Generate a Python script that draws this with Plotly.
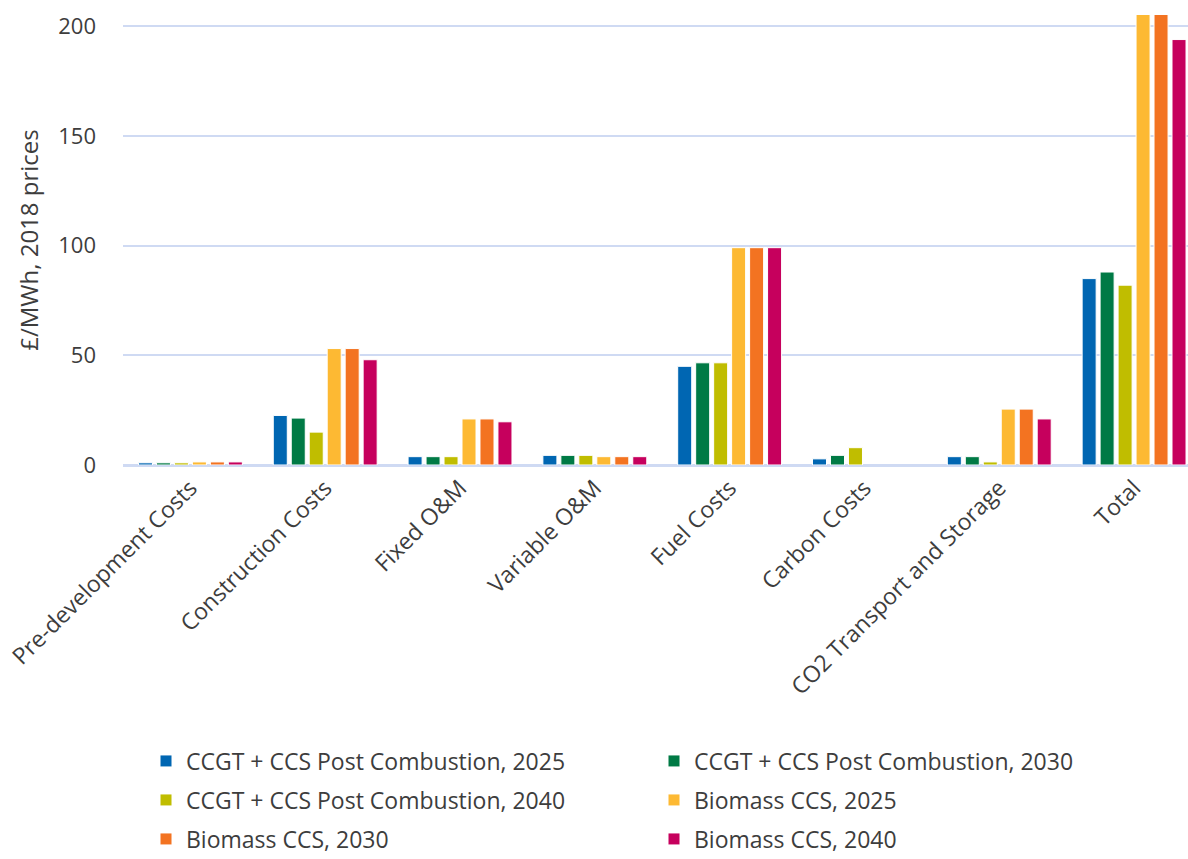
import plotly.graph_objects as go

# Cost categories on the x axis
categories = [
    "Pre-development Costs",
    "Construction Costs",
    "Fixed O&M",
    "Variable O&M",
    "Fuel Costs",
    "Carbon Costs",
    "CO2 Transport and Storage",
    "Total",
]

# Levelised cost components, £/MWh (2018 prices)
ccgt_2025 = [1.0, 22.6, 3.8, 4.4, 45.0, 2.8, 3.8, 85.0]
ccgt_2030 = [1.0, 21.4, 3.8, 4.4, 46.6, 4.4, 3.8, 88.0]
ccgt_2040 = [1.0, 15.0, 3.8, 4.4, 46.6, 7.9, 1.4, 82.0]
biomass_2025 = [1.4, 53.1, 21.0, 3.8, 99.1, 0.0, 25.5, 208.0]
biomass_2030 = [1.4, 53.1, 21.0, 3.8, 99.1, 0.0, 25.5, 208.0]
biomass_2040 = [1.4, 48.0, 19.7, 3.8, 99.1, 0.0, 21.0, 194.0]

series_names = [
    "CCGT + CCS Post Combustion, 2025",
    "CCGT + CCS Post Combustion, 2030",
    "CCGT + CCS Post Combustion, 2040",
    "Biomass CCS, 2025",
    "Biomass CCS, 2030",
    "Biomass CCS, 2040",
]
series_values = [ccgt_2025, ccgt_2030, ccgt_2040, biomass_2025, biomass_2030, biomass_2040]
series_colors = ["#0066B2", "#007A45", "#C0BD00", "#FDB933", "#F37321", "#C6005D"]
# two legend entries per row, three rows
legend_ids = ["legend", "legend", "legend2", "legend2", "legend3", "legend3"]

FONT = "Open Sans"
TEXT = "#3d3d3d"
GRID = "#cfdaf3"

fig = go.Figure()
for name, vals, col, lg in zip(series_names, series_values, series_colors, legend_ids):
    fig.add_trace(
        go.Bar(
            x=categories,
            y=vals,
            name=name,
            marker=dict(
                color=col,
                # no outline on empty bars so the baseline stays unbroken
                line=dict(color="white", width=[0 if v == 0 else 1 for v in vals]),
            ),
            legend=lg,
        )
    )

W, H = 1188, 859
row_y = [761, 800, 839]
legend_style = dict(
    orientation="h",
    xref="container",
    yref="container",
    x=146 / W,
    xanchor="left",
    yanchor="middle",
    entrywidth=463,
    entrywidthmode="pixels",
    font=dict(family=FONT, size=23, color=TEXT),
    bgcolor="rgba(0,0,0,0)",
    itemclick=False,
)

fig.update_layout(
    width=W,
    height=H,
    margin=dict(l=123, r=0, t=15, b=H - 465),
    paper_bgcolor="white",
    plot_bgcolor="white",
    barmode="group",
    bargap=0.2,
    bargroupgap=0.22,
    font=dict(family=FONT, size=22, color=TEXT),
    legend=dict(legend_style, y=1 - row_y[0] / H),
    legend2=dict(legend_style, y=1 - row_y[1] / H),
    legend3=dict(legend_style, y=1 - row_y[2] / H),
    xaxis=dict(
        range=[-0.5, 7.4],
        tickangle=-45,
        showgrid=False,
        showline=False,
        zeroline=False,
        ticks="",
        ticklabelstandoff=4,
        tickfont=dict(family=FONT, size=23, color=TEXT),
        fixedrange=True,
    ),
    yaxis=dict(
        range=[0, 205.2],
        tickvals=[0, 50, 100, 150, 200],
        showgrid=True,
        gridcolor=GRID,
        gridwidth=2,
        zeroline=True,
        zerolinecolor=GRID,
        zerolinewidth=3,
        showline=False,
        ticks="",
        ticklabelstandoff=26,
        tickfont=dict(family=FONT, size=22, color=TEXT),
        title=dict(text="£/MWh, 2018 prices", font=dict(family=FONT, size=24, color=TEXT), standoff=12),
        automargin=False,
        fixedrange=True,
    ),
)

fig.write_html("out.html")
